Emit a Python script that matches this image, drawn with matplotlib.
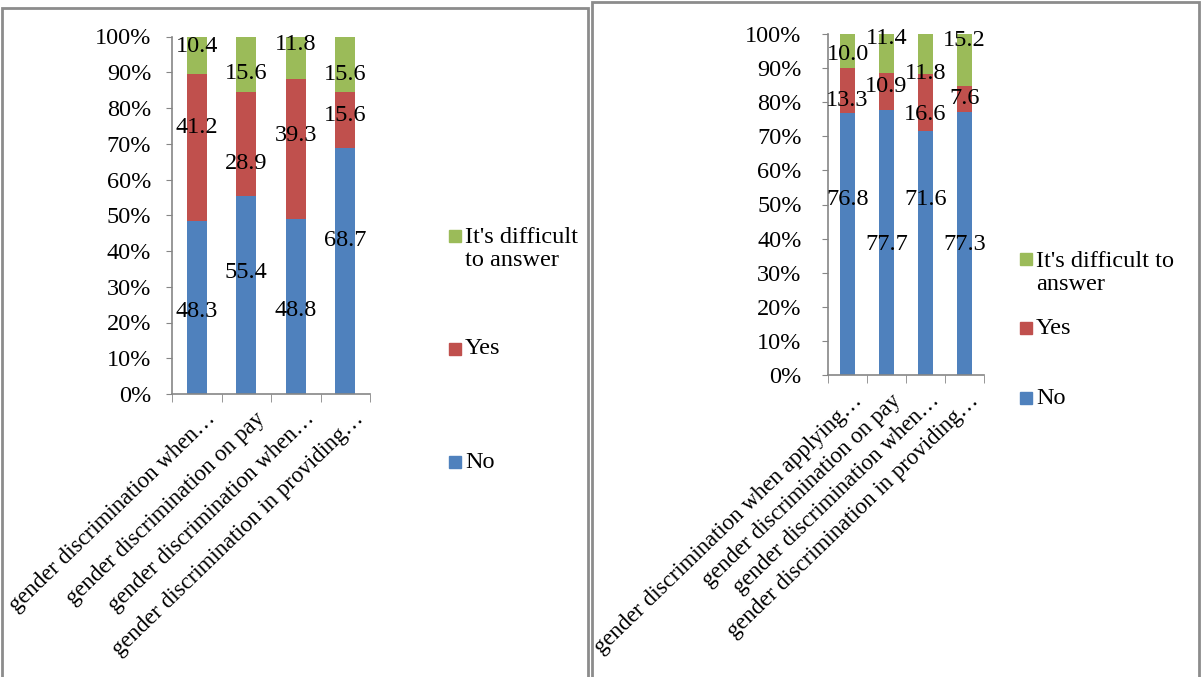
import numpy as np
import matplotlib.pyplot as plt
from matplotlib.patches import Rectangle
from matplotlib.transforms import ScaledTranslation

plt.rcParams['font.family'] = ['Liberation Serif', 'DejaVu Serif']

W, H = 1201, 677

# survey answers, percent of respondents
cats_left = ['gender discrimination when…', 'gender discrimination on pay',
             'gender discrimination when…', 'gender discrimination in providing…']
no_left = [48.3, 55.4, 48.8, 68.7]
yes_left = [41.2, 28.9, 39.3, 15.6]
hard_left = [10.4, 15.6, 11.8, 15.6]

cats_right = ['gender discrimination when applying…', 'gender discrimination on pay',
              'gender discrimination when…', 'gender discrimination in providing…']
no_right = [76.8, 77.7, 71.6, 77.3]
yes_right = [13.3, 10.9, 16.6, 7.6]
hard_right = [10.0, 11.4, 11.8, 15.2]

series_names = ['No', 'Yes', "It's difficult to answer"]
colors = ['#4F81BD', '#C0504D', '#9BBB59']

# how far each value label sits from its segment centre (percentage points)
nudge_left = [[-1.2, 6.2, -1.1, 8.5], [5.6, -5.5, 3.7, 1.3], [2.4, -2.5, 3.7, -2.9]]
nudge_right = [[13.2, -0.45, 15.8, -0.25], [-3.0, 1.45, -3.5, 0.1], [-1.1, 4.4, -5.6, 5.8]]

GRAY = '#868686'
FS = 17.5


def px_axes(fig, x0, y0, x1, y1):
    return fig.add_axes([x0 / W, 1 - y1 / H, (x1 - x0) / W, (y1 - y0) / H])


def draw_panel(fig, ax, cats, series, nudges, ypad, shift):
    vals = np.array(series, dtype=float)
    shares = vals / vals.sum(axis=0) * 100
    x = np.arange(len(cats))
    bottom = np.zeros(len(cats))
    for i in range(len(series)):
        ax.bar(x, shares[i], 0.41, bottom=bottom, color=colors[i], zorder=2)
        for j in range(len(cats)):
            yc = bottom[j] + shares[i][j] / 2 + nudges[i][j]
            ax.text(x[j], yc, f'{vals[i][j]:.1f}', ha='center', va='center',
                    fontsize=FS, zorder=3)
        bottom += shares[i]

    ax.set_xlim(-0.5, len(cats) - 0.5)
    ax.set_ylim(0, 100)
    ax.set_yticks(range(0, 101, 10))
    ax.set_yticklabels([f'{t}%' for t in range(0, 101, 10)], fontsize=FS)
    ax.set_xticks(x)
    ax.set_xticklabels([])

    # slanted category names, anchored just right of and below each slot centre
    off = ScaledTranslation(shift[0] / 100, -shift[1] / 100, fig.dpi_scale_trans)
    for xi, name in zip(x, cats):
        ax.text(xi, 0, name, rotation=44, ha='right', va='top',
                rotation_mode='anchor', fontsize=16.5,
                transform=ax.get_xaxis_transform() + off)

    ax.set_xticks(np.arange(-0.5, len(cats), 1), minor=True)
    ax.tick_params(axis='x', which='major', length=0)
    ax.tick_params(axis='x', which='minor', length=6, color=GRAY, direction='out')
    ax.tick_params(axis='y', length=4, color=GRAY, pad=ypad)
    for s in ['top', 'right']:
        ax.spines[s].set_visible(False)
    for s in ['left', 'bottom']:
        ax.spines[s].set_color(GRAY)
        ax.spines[s].set_linewidth(1.2)


def draw_legend(fig, x_box, x_text, ys, labels, line_px):
    # entries listed top-down: difficult, yes, no
    order = [2, 1, 0]
    for y, k in zip(ys, order):
        fig.add_artist(Rectangle((x_box / W, 1 - (y + 6) / H), 12 / W, 12 / H,
                                 transform=fig.transFigure, color=colors[k]))
        n = labels[k].count('\n')
        fig.text(x_text / W, 1 - (y + n * line_px / 2) / H, labels[k],
                 ha='left', va='center', fontsize=FS, linespacing=1.1)


fig = plt.figure(figsize=(W / 100, H / 100), dpi=100)

# panel frames
fig.add_artist(Rectangle((2 / W, -0.02), 586 / W, 1 - 8 / H + 0.02,
                         transform=fig.transFigure, fill=False, ec='#8c8c8c', lw=2))
fig.add_artist(Rectangle((592 / W, -0.02), 607 / W, 1 - 2 / H + 0.02,
                         transform=fig.transFigure, fill=False, ec='#8c8c8c', lw=2))

ax1 = px_axes(fig, 172, 36.5, 370, 394)
draw_panel(fig, ax1, cats_left, [no_left, yes_left, hard_left], nudge_left, 11, (8, 14))
draw_legend(fig, 449, 465, [236, 349, 462],
            ['No', 'Yes', "It's difficult\nto answer"], 26)

ax2 = px_axes(fig, 828, 34, 984, 375)
draw_panel(fig, ax2, cats_right, [no_right, yes_right, hard_right], nudge_right, 15, (4, 15))
draw_legend(fig, 1020, 1036, [259, 328, 398],
            ['No', 'Yes', "It's difficult to\nanswer"], 28)

fig.savefig('out.png', dpi=100)
